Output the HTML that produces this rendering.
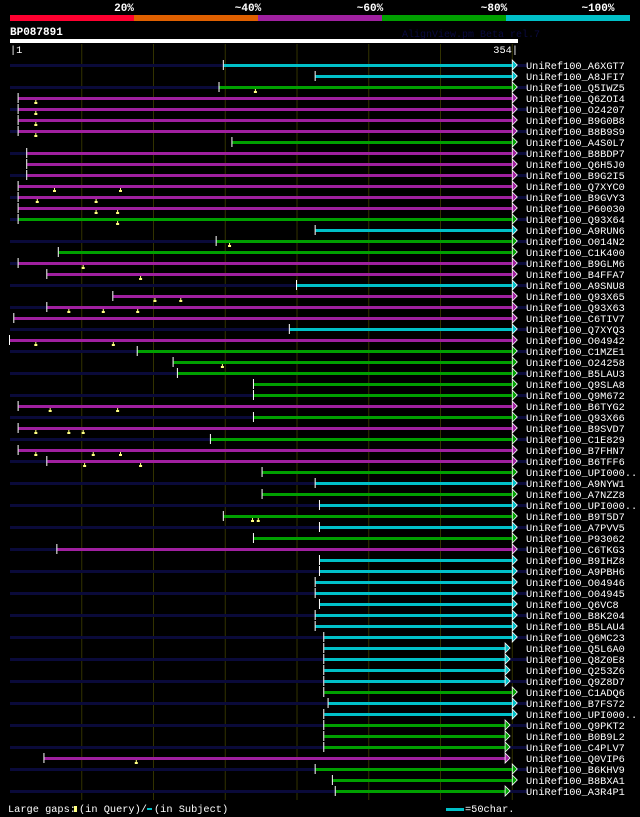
<!DOCTYPE html>
<html><head><meta charset="utf-8"><style>
html,body{margin:0;padding:0;background:#000;width:640px;height:817px;overflow:hidden}
svg text{font-family:"Liberation Mono",monospace;fill:#fff}
</style></head><body>
<svg id="chart" width="640" height="817" xmlns="http://www.w3.org/2000/svg">
<rect width="640" height="817" fill="#000"/>
<g>
<rect x="10" y="15" width="124" height="6" fill="#ff0030"/>
<rect x="134" y="15" width="124" height="6" fill="#e06000"/>
<rect x="258" y="15" width="124" height="6" fill="#a020a0"/>
<rect x="382" y="15" width="124" height="6" fill="#00a000"/>
<rect x="506" y="15" width="124" height="6" fill="#00c0c8"/>
<text x="124" y="11" font-size="11" font-weight="bold" text-anchor="middle">20%</text>
<text x="248" y="11" font-size="11" font-weight="bold" text-anchor="middle">~40%</text>
<text x="370" y="11" font-size="11" font-weight="bold" text-anchor="middle">~60%</text>
<text x="494" y="11" font-size="11" font-weight="bold" text-anchor="middle">~80%</text>
<text x="598" y="11" font-size="11" font-weight="bold" text-anchor="middle">~100%</text>
</g>
<text x="10" y="35" font-size="11" font-weight="bold">BP087891</text>
<text x="402" y="37" font-size="10" style="fill:#0a0a40">AlignView.pm Beta rel.7</text>
<rect x="10" y="39" width="508" height="4" fill="#fff"/>
<text x="10" y="53" font-size="10.3">|1</text>
<text x="518" y="53" font-size="10.3" text-anchor="end">354|</text>
<g id="grid"></g><g id="rows"></g>
<g>
<text x="8" y="812" font-size="10.3">Large gaps:</text>
<rect x="74" y="806" width="3" height="6" fill="#ffff80"/>
<text x="79" y="812" font-size="10.3">(in Query)/</text>
<rect x="147" y="808" width="5" height="2" fill="#00c0c8"/>
<text x="154" y="812" font-size="10.3">(in Subject)</text>
<rect x="446" y="808" width="18" height="3" fill="#00c0c8"/>
<text x="465" y="812" font-size="10.3">=50char.</text>
</g>
</svg>
<script>
const names=["A6XGT7","A8JFI7","Q5IWZ5","Q6ZOI4","O24207","B9G0B8","B8B9S9","A4S0L7","B8BDP7","Q6H5J0","B9G2I5","Q7XYC0","B9GVY3","P60030","Q93X64","A9RUN6","O014N2","C1K400","B9GLM6","B4FFA7","A9SNU8","Q93X65","Q93X63","C6TIV7","Q7XYQ3","O04942","C1MZE1","O24258","B5LAU3","Q9SLA8","Q9M672","B6TYG2","Q93X66","B9SVD7","C1E829","B7FHN7","B6TFF6","UPI000..","A9NYW1","A7NZZ8","UPI000..","B9T5D7","A7PVV5","P93062","C6TKG3","B9IHZ8","A9PBH6","O04946","O04945","Q6VC8","B8K204","B5LAU4","Q6MC23","Q5L6A0","Q8Z0E8","Q253Z6","Q9Z8D7","C1ADQ6","B7FS72","UPI000..","Q9PKT2","B0B9L2","C4PLV7","Q0VIP6","B6KHV9","B8BXA1","A3R4P1"];
const identity=["c","c","g","m","m","m","m","g","m","m","m","m","m","m","g","c","g","g","m","m","c","m","m","m","c","m","g","g","g","g","g","m","g","m","g","m","m","g","c","g","c","g","c","g","m","c","c","c","c","c","c","c","c","c","c","c","c","g","c","c","g","g","g","m","g","g","g"];
const starts=[149,213,146,6,6,6,6,155,12,12,12,6,6,6,6,213,144,34,6,26,200,72,26,3,195,0,89,114,117,170,170,6,170,6,140,6,26,176,213,176,216,149,216,170,33,216,216,213,213,216,213,213,219,219,219,219,219,219,222,219,219,219,219,24,213,225,227];
const ends=[350,350,350,350,350,350,350,350,350,350,350,350,350,350,350,350,350,350,350,350,350,350,350,350,350,350,350,350,350,350,350,350,350,350,350,350,350,350,350,350,350,350,350,350,350,350,350,350,350,350,350,350,350,345,345,345,345,350,350,350,345,345,345,345,350,350,345];
const gaps=[[],[],[171],[18],[18],[18],[18],[],[],[],[],[31,77],[19,60],[60,75],[75],[],[153],[],[51],[91],[],[101,119],[41,65,89],[],[],[18,72],[],[148],[],[],[],[28,75],[],[18,41,51],[],[18,58,77],[52,91],[],[],[],[],[169,173],[],[],[],[],[],[],[],[],[],[],[],[],[],[],[],[],[],[],[],[],[],[88],[],[],[]];
const palette={c:"#00c0c8",g:"#00a000",m:"#a020a0"};
const X0=10,SC=508/354;
function xs(p){return X0+p*SC;}
function yr(i){return 65+i*11;}
const NS="http://www.w3.org/2000/svg";
function mk(tag,at,parent){const e=document.createElementNS(NS,tag);for(const k in at)e.setAttribute(k,at[k]);parent.appendChild(e);return e;}
const grid=document.getElementById('grid');
for(let p=50;p<354;p+=50){
  const l=mk('line',{x1:xs(p),x2:xs(p),y1:44,y2:800,stroke:'#333300','stroke-width':1},grid);
  
  
}
const rows=document.getElementById('rows');
names.forEach((n,i)=>{
  const y=yr(i);
  const g=mk('g',{},rows);
  
  
  if(i%2===0) mk('rect',{x:10,y:y-1,width:518,height:3,fill:'#0a0a3a'},g);
  const x1=xs(starts[i]),x2=xs(ends[i]);
  const bar=mk('rect',{x:x1,y:y-1,width:x2-x1,height:3,fill:palette[identity[i]]},g);
  
  
  mk('rect',{x:x1-1,y:y-5,width:1,height:10,fill:'#fff'},g);
  mk('polygon',{points:`${x2},${y-5} ${x2+5},${y} ${x2},${y+5}`,fill:palette[identity[i]],stroke:'#fff','stroke-width':0.8},g);
  gaps[i].forEach(p=>{
    const gx=xs(p);
    mk('rect',{x:gx-0.5,y:y+2,width:1,height:2,fill:'#ffff80'},g);
    const m=mk('rect',{x:gx-1.5,y:y+4,width:3,height:2,fill:'#ffff80'},g);
    
    
  });
  const t=mk('text',{x:526,y:y+4,'font-size':'10.3'},g);
  t.textContent='UniRef100_'+n;
  
  
});
</script>
</body></html>
